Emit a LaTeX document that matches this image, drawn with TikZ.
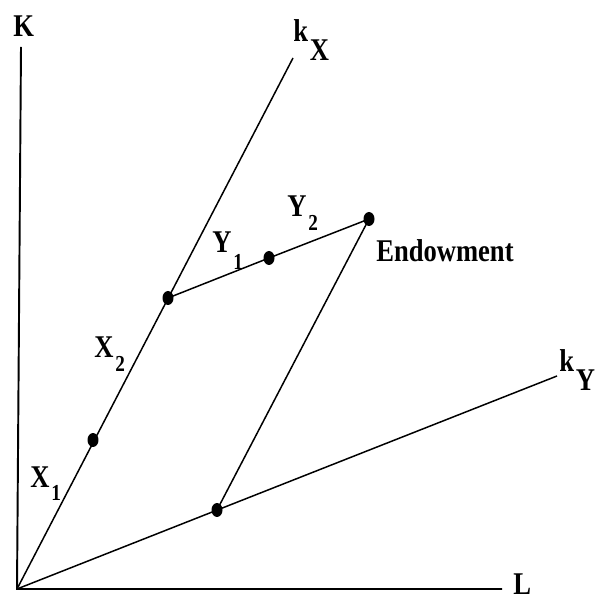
\documentclass[tikz,border=0pt]{standalone}
\usepackage{fontspec}
\setmainfont[FakeStretch=0.84]{Liberation Serif}
\usepackage{tikz}
\usetikzlibrary{shapes.geometric}
% letter with a lowered subscript
\newcommand{\lab}[4][13]{#2\kern1pt\raisebox{-#4}{\fontsize{#1}{#1}\selectfont #3}}

\begin{document}
\begin{tikzpicture}[x=0.02cm, y=0.02cm,
  font=\fontsize{18}{21}\selectfont\bfseries,
  dot/.style={ellipse, fill=black, inner sep=0pt, minimum width=0.22cm, minimum height=0.28cm},
  axis/.style={line width=1.1pt},
  ray/.style={line width=0.85pt},
  lbl/.style={anchor=base west, inner sep=0pt}]
  \useasboundingbox (0,0) rectangle (595,599);

  % axes and the two rays
  \coordinate (O) at (17,10);
  \coordinate (Ktop) at (21,552);
  \coordinate (Lend) at (502,10);
  \coordinate (kXend) at (293,541);
  \coordinate (kYend) at (557,223);
  \draw[axis] (Ktop) -- (O) -- (Lend);
  \draw[ray] (O) -- (kXend);
  \draw[ray] (O) -- (kYend);

  % points
  \node[dot] (x1) at (93,159) {};
  \node[dot] (x2) at (168,301) {};
  \node[dot] (y1) at (269,341) {};
  \node[dot] (endow) at (369,380) {};
  \node[dot] (yk) at (217,89) {};

  \draw[ray] (x2.center) -- (y1.center) -- (endow.center) -- (yk.center);

  % labels
  \node[lbl] at (13,562) {K};
  \node[lbl] at (513,5) {L};
  \node[lbl] at (293,557) {\lab[18]{k}{X}{0.38cm}};
  \node[lbl] at (559,227) {\lab[18]{k}{Y}{0.38cm}};
  \node[lbl] at (30,112) {\lab{X}{1}{0.28cm}};
  \node[lbl] at (94,241) {\lab{X}{2}{0.28cm}};
  \node[lbl] at (212,346) {\lab{Y}{1}{0.34cm}};
  \node[lbl] at (287,382) {\lab{Y}{2}{0.28cm}};
  \node[lbl] at (376,337) {Endowment};
\end{tikzpicture}
\end{document}
